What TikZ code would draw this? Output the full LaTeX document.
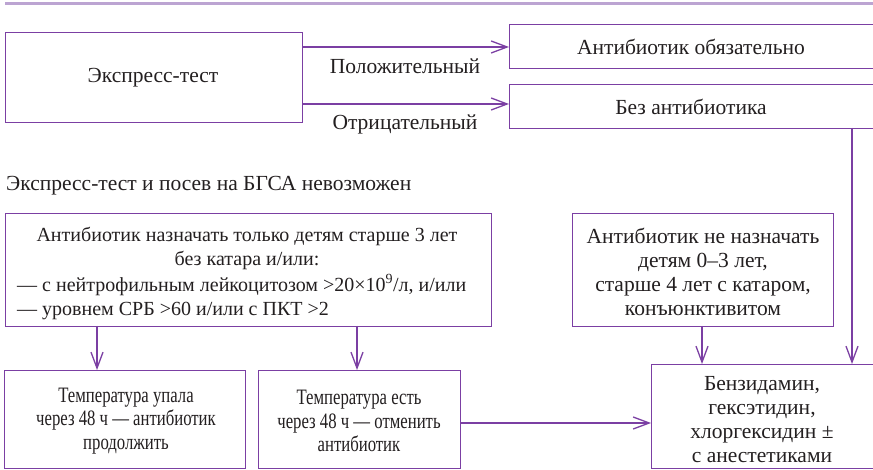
\documentclass[tikz,border=0pt]{standalone}
\usepackage{fontspec}
\setmainfont{Liberation Serif}
\newfontfamily\condfont[FakeStretch=0.76]{Liberation Serif}
\usetikzlibrary{arrows.meta}
\definecolor{lineP}{HTML}{7B3FA3}
\definecolor{topP}{HTML}{BCA4D2}
\definecolor{txtC}{HTML}{231F20}
\tikzset{
  box/.style={draw=lineP, line width=1.3pt, rectangle, inner sep=0pt, anchor=north west},
  txt/.style={text=txtC, font=\fontsize{21.5}{24}\selectfont, align=center, inner sep=0pt},
  txtb/.style={text=txtC, font=\fontsize{20}{24}\selectfont, align=center, inner sep=0pt},
  txtc/.style={text=txtC, font=\condfont\fontsize{22}{23.5}\selectfont, align=center, inner sep=0pt},
  conn/.style={draw=lineP, line width=1.3pt, -{Straight Barb[length=16pt,width=12pt,line width=1.3pt]}},
}
\begin{document}
\begin{tikzpicture}[x=1pt,y=-1pt]
\useasboundingbox (0,0) rectangle (873,470);
\clip (0,0) rectangle (873,470);
\fill[white] (0,0) rectangle (873,470);
\draw[topP, line width=3pt] (5,4) -- (880,4);

% top part
\node[box, minimum width=297pt, minimum height=90pt] (ex) at (5,32) {};
\node[txt] (ext) at (153,78) {Экспресс-тест};
\node[box, minimum width=380pt, minimum height=44pt] (ab) at (509,24) {};
\node[txt] (abt) at (691,47) {Антибиотик обязательно};
\node[box, minimum width=380pt, minimum height=44pt] (no) at (509,84) {};
\node[txt] (not) at (691,107) {Без антибиотика};
\coordinate (e1) at (302,47);
\coordinate (e2) at (302,104);
\draw[conn] (e1) -- (e1 -| ab.west);
\draw[conn] (e2) -- (e2 -| no.west);
\node[txt] (pos) at (405,66) {Положительный};
\node[txt] (neg) at (405,124) {Отрицательный};

\node[txt, anchor=west] (head) at (6,186) {Экспресс-тест и посев на БГСА невозможен};

% middle
\node[box, minimum width=486pt, minimum height=113pt] (big) at (5,213) {};
\node[txtb] (bigt1) at (247,248) {Антибиотик назначать только детям старше 3 лет\\без катара и/или:};
\node[txtb, anchor=west, align=left] (bigt2) at (17,297) {— с нейтрофильным лейкоцитозом >20×10\textsuperscript{9}/л, и/или\\— уровнем СРБ >60 и/или с ПКТ >2};
\node[box, minimum width=261pt, minimum height=113pt] (nn) at (572,213) {};
\node[txt] (nnt) at (703,272) {Антибиотик не назначать\\детям 0–3 лет,\\старше 4 лет с катаром,\\конъюнктивитом};

% bottom
\node[box, minimum width=241pt, minimum height=98pt] (t1) at (4,370) {};
\node[txtc] (t1t) at (126,421) {Температура упала\\через 48 ч — антибиотик\\продолжить};
\node[box, minimum width=202pt, minimum height=98pt] (t2) at (258,370) {};
\node[txtc] (t2t) at (359,421) {Температура есть\\через 48 ч — отменить\\антибиотик};
\node[box, minimum width=240pt, minimum height=104pt] (bz) at (651,364) {};
\node[txt] (bzt) at (762,420) {Бензидамин,\\гексэтидин,\\хлоргексидин ±\\с анестетиками};

\coordinate (d1) at (97,326);
\coordinate (d2) at (357,326);
\coordinate (d3) at (702,326);
\coordinate (d4) at (852,128);
\coordinate (d5) at (460,423);
\draw[conn] (d1) -- (d1 |- t1.north);
\draw[conn] (d2) -- (d2 |- t2.north);
\draw[conn] (d3) -- (d3 |- bz.north);
\draw[conn] (d4) -- (d4 |- bz.north);
\draw[conn] (d5) -- (d5 -| bz.west);
\end{tikzpicture}
\end{document}
